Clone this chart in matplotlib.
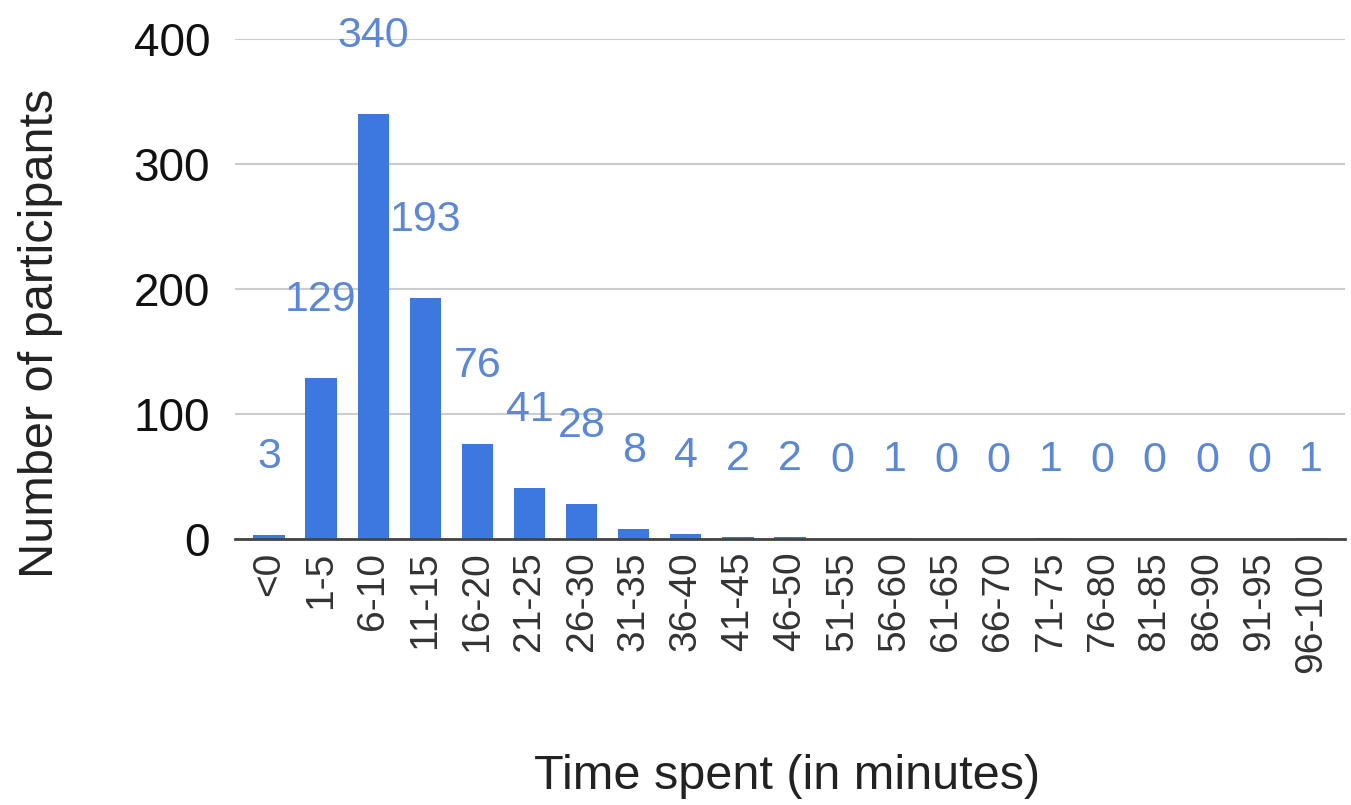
import matplotlib.pyplot as plt
import numpy as np

plt.rcParams['font.family'] = ['Liberation Sans', 'DejaVu Sans']

categories = ['<0', '1-5', '6-10', '11-15', '16-20', '21-25', '26-30', '31-35', '36-40',
              '41-45', '46-50', '51-55', '56-60', '61-65', '66-70', '71-75', '76-80',
              '81-85', '86-90', '91-95', '96-100']
counts = [3, 129, 340, 193, 76, 41, 28, 8, 4, 2, 2, 0, 1, 0, 0, 1, 0, 0, 0, 0, 1]

bar_color = '#3c78e0'
label_color = '#5b87d4'

fig = plt.figure(figsize=(13.51, 8.05), dpi=100)
ax = fig.add_axes([0.174, 0.3304, 0.8215, 0.6212])

x = np.arange(len(categories))
bars = ax.bar(x, counts, width=0.6, color=bar_color, zorder=3)

for xi, v in zip(x, counts):
    ax.annotate(str(v), (xi, v), xytext=(0, 56), textcoords='offset points',
                ha='center', va='center', fontsize=31, color=label_color,
                zorder=4, annotation_clip=False)

ax.set_ylim(0, 400)
ax.set_xlim(-0.65, len(categories) - 0.35)
ax.set_yticks([0, 100, 200, 300, 400])
ax.set_xticks(x)
ax.set_xticklabels(categories, rotation=90, fontsize=28, color='#333333')
ax.tick_params(axis='y', labelsize=33, length=0, pad=18, labelcolor='#111111')
ax.tick_params(axis='x', length=0, pad=9)

ax.grid(axis='y', color='#cccccc', linewidth=1.5, zorder=0)
for s in ['top', 'right', 'left']:
    ax.spines[s].set_visible(False)
ax.spines['bottom'].set_color('#444444')
ax.spines['bottom'].set_linewidth(2)
ax.spines['bottom'].set_zorder(5)

fig.text(0.5827, 1 - 776 / 805, 'Time spent (in minutes)', ha='center', va='center',
         fontsize=35, color='#222222')
fig.text(0.03, 1 - 333 / 805, 'Number of participants', ha='center', va='center',
         rotation=90, fontsize=35, color='#222222')

fig.savefig('out.png', dpi=100)
